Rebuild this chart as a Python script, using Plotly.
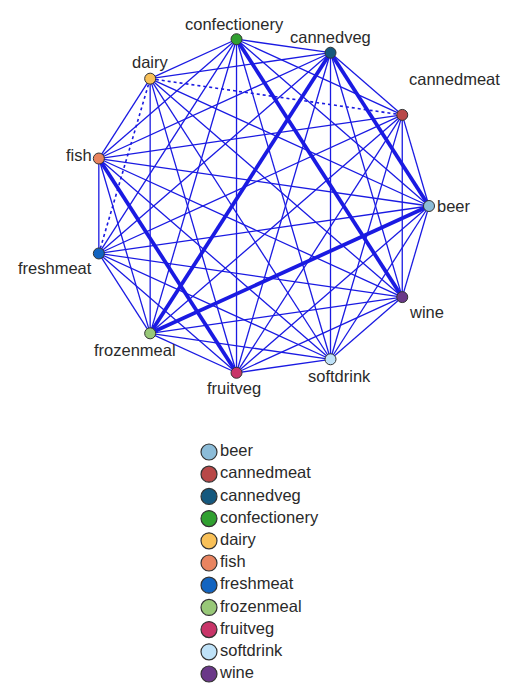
import math
import plotly.graph_objects as go

# nodes, counter-clockwise from the right
nodes = ["beer", "cannedmeat", "cannedveg", "confectionery", "dairy", "fish",
         "freshmeat", "frozenmeal", "fruitveg", "softdrink", "wine"]

node_colors = ["#8cbcd8", "#b84848", "#15587e", "#30a030", "#f8c058", "#e88460",
               "#1264c0", "#98c878", "#c83468", "#bfe2f8", "#6a3888"]

# strong links (drawn thick)
strong_links = [("beer", "frozenmeal"), ("beer", "cannedveg"), ("cannedveg", "frozenmeal"),
                ("confectionery", "wine"), ("fish", "fruitveg")]

# weak links (drawn dotted)
weak_links = [("dairy", "cannedmeat"), ("dairy", "freshmeat")]

# label placement: (xanchor, xshift, yshift)
label_pos = {
    "beer": ("left", 6, 0),
    "cannedmeat": ("left", 5, 36),
    "cannedveg": ("center", 0, 16),
    "confectionery": ("center", -2, 15),
    "dairy": ("center", 0, 17),
    "fish": ("right", -5, 4),
    "freshmeat": ("right", -5, -15),
    "frozenmeal": ("center", -15, -17),
    "fruitveg": ("center", -3, -15),
    "softdrink": ("center", 9, -17),
    "wine": ("left", 5, -15),
}

W, H = 514, 685
cx, cy, r = 252.5, 198, 168.5   # circle centre / radius in figure pixels

n = len(nodes)
pos = {}
for i, name in enumerate(nodes):
    a = 2 * math.pi * i / n
    pos[name] = (math.cos(a), math.sin(a))

strong = set(frozenset(p) for p in strong_links)
weak = set(frozenset(p) for p in weak_links)

groups = {"normal": ([], []), "strong": ([], []), "weak": ([], [])}
for i in range(n):
    for j in range(i + 1, n):
        key = frozenset((nodes[i], nodes[j]))
        g = "strong" if key in strong else "weak" if key in weak else "normal"
        xs, ys = groups[g]
        xs += [pos[nodes[i]][0], pos[nodes[j]][0], None]
        ys += [pos[nodes[i]][1], pos[nodes[j]][1], None]

edge_color = "#1a1ae2"
edge_style = {
    "normal": dict(width=1.3, color=edge_color),
    "strong": dict(width=3.8, color=edge_color),
    "weak": dict(width=1.6, color=edge_color, dash="dot"),
}

fig = go.Figure()

for g in ["normal", "weak", "strong"]:
    xs, ys = groups[g]
    fig.add_trace(go.Scatter(x=xs, y=ys, mode="lines", line=edge_style[g],
                             hoverinfo="skip", showlegend=False))

fig.add_trace(go.Scatter(
    x=[pos[k][0] for k in nodes],
    y=[pos[k][1] for k in nodes],
    mode="markers",
    marker=dict(size=11, color=node_colors, line=dict(color="#333333", width=1)),
    text=nodes,
    hoverinfo="text",
    showlegend=False,
))

label_font = dict(family="Liberation Sans, Arial, sans-serif", size=16.5, color="#2a2a2a")

for name in nodes:
    xa, dx, dy = label_pos[name]
    fig.add_annotation(x=pos[name][0], y=pos[name][1], text=name, showarrow=False,
                       xanchor=xa, yanchor="middle", xshift=dx, yshift=dy,
                       font=label_font)

# legend drawn as a column of markers below the graph
leg_x = (201 - cx) / r
leg_y = [(cy - (444 + 22.2 * i)) / r for i in range(n)]
fig.add_trace(go.Scatter(
    x=[leg_x] * n, y=leg_y, mode="markers+text",
    marker=dict(size=16, color=node_colors, line=dict(color="#333333", width=1.2)),
    text=nodes, textposition="middle right", textfont=label_font,
    hoverinfo="text", showlegend=False,
))

fig.update_layout(
    width=W, height=H,
    margin=dict(l=0, r=0, t=0, b=0),
    paper_bgcolor="white", plot_bgcolor="white",
    showlegend=False,
    xaxis=dict(range=[-cx / r, (W - cx) / r], visible=False, fixedrange=True),
    yaxis=dict(range=[-(H - cy) / r, cy / r], visible=False, fixedrange=True),
)

fig.write_html("out.html")
